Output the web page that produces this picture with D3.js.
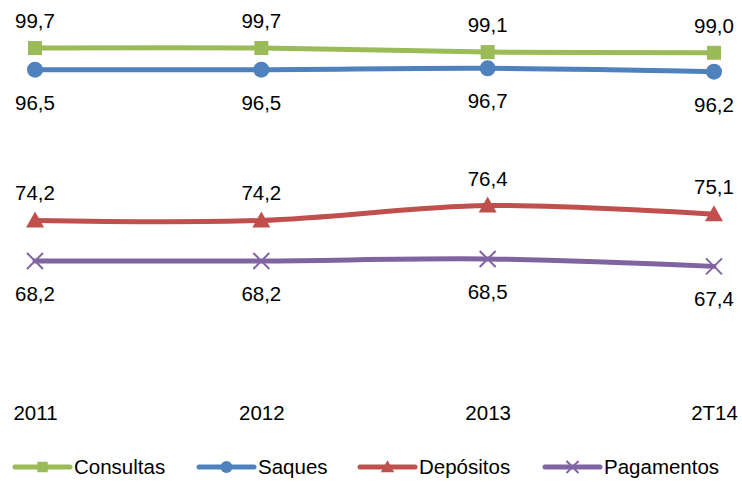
<!DOCTYPE html>
<html>
<head>
<meta charset="utf-8">
<script src="https://cdn.jsdelivr.net/npm/d3@7"></script>
<style>
  html, body { margin: 0; padding: 0; background: #fff; }
  svg { display: block; font-family: "Liberation Sans", Arial, sans-serif; }
</style>
</head>
<body>
<svg id="chart" width="742" height="482"></svg>
<script>
// Categories and series values
const categories = ["2011", "2012", "2013", "2T14"];
const consultas  = [99.7, 99.7, 99.1, 99.0];
const saques     = [96.5, 96.5, 96.7, 96.2];
const depositos  = [74.2, 74.2, 76.4, 75.1];
const pagamentos = [68.2, 68.2, 68.5, 67.4];
const seriesNames = ["Consultas", "Saques", "Depósitos", "Pagamentos"];

const series = [
  { name: seriesNames[0], values: consultas,  color: "#9BBB59", marker: "square",   label: "above" },
  { name: seriesNames[1], values: saques,     color: "#4F81BD", marker: "circle",   label: "below" },
  { name: seriesNames[2], values: depositos,  color: "#C0504D", marker: "triangle", label: "above" },
  { name: seriesNames[3], values: pagamentos, color: "#8064A2", marker: "cross",    label: "below" }
];

const svg = d3.select("#chart");
const fontSize = 20.5;

const x = d3.scalePoint().domain(categories).range([35, 714]);
const y = d3.scaleLinear().domain([50, 100]).range([384, 46]);

const fmt = v => d3.format(".1f")(v).replace(".", ",");

const line = d3.line()
  .x((d, i) => x(categories[i]))
  .y(d => y(d))
  .curve(d3.curveCatmullRom.alpha(0));

// Marker shapes; k scales them down for the legend
function drawMarker(g, type, color, cx, cy, k = 1) {
  if (type === "square") {
    const h = 7 * k;
    g.append("rect").attr("x", cx - h).attr("y", cy - h).attr("width", 2 * h).attr("height", 2 * h).attr("fill", color);
  } else if (type === "circle") {
    g.append("circle").attr("cx", cx).attr("cy", cy).attr("r", 8 * k).attr("fill", color);
  } else if (type === "triangle") {
    g.append("path").attr("d", `M${cx},${cy - 9 * k}L${cx + 9 * k},${cy + 7 * k}L${cx - 9 * k},${cy + 7 * k}Z`).attr("fill", color);
  } else if (type === "cross") {
    const h = 8 * k;
    g.append("path").attr("d", `M${cx - h},${cy - h}L${cx + h},${cy + h}M${cx - h},${cy + h}L${cx + h},${cy - h}`)
      .attr("stroke", color).attr("stroke-width", 2).attr("fill", "none");
  }
}

// Lines, markers and value labels
series.forEach(s => {
  const g = svg.append("g");
  g.append("path").datum(s.values)
    .attr("d", line)
    .attr("fill", "none")
    .attr("stroke", s.color)
    .attr("stroke-width", 5)
    .attr("stroke-linejoin", "round")
    .attr("stroke-linecap", "round");
  s.values.forEach((v, i) => drawMarker(g, s.marker, s.color, x(categories[i]), y(v)));
  g.selectAll("text.val").data(s.values).join("text")
    .attr("class", "val")
    .attr("x", (d, i) => x(categories[i]))
    .attr("y", d => y(d) + (s.label === "above" ? -20 : 40))
    .attr("text-anchor", "middle")
    .attr("font-size", fontSize)
    .attr("fill", "#000")
    .text(fmt);
});

// Category axis labels (no axis line)
const xAxis = d3.axisBottom(x).tickSize(0).tickPadding(0);
const axisG = svg.append("g").attr("transform", "translate(0,405)").call(xAxis);
axisG.select(".domain").remove();
axisG.selectAll("text").attr("font-size", fontSize).attr("fill", "#000")
  .attr("font-family", "Liberation Sans, Arial, sans-serif")
  .attr("dy", "0.71em");

// Legend
const legendX = [15, 199, 360, 545];
const legendY = 467;
series.forEach((s, i) => {
  const g = svg.append("g").attr("transform", `translate(${legendX[i]},${legendY})`);
  g.append("line").attr("x1", 0).attr("x2", 55).attr("y1", 0).attr("y2", 0)
    .attr("stroke", s.color).attr("stroke-width", 5).attr("stroke-linecap", "round");
  drawMarker(g, s.marker, s.color, 27.5, 0, 0.75);
  g.append("text").attr("x", 59).attr("y", 0).attr("dy", "0.35em")
    .attr("font-size", fontSize).attr("fill", "#000").text(s.name);
});
</script>
</body>
</html>
